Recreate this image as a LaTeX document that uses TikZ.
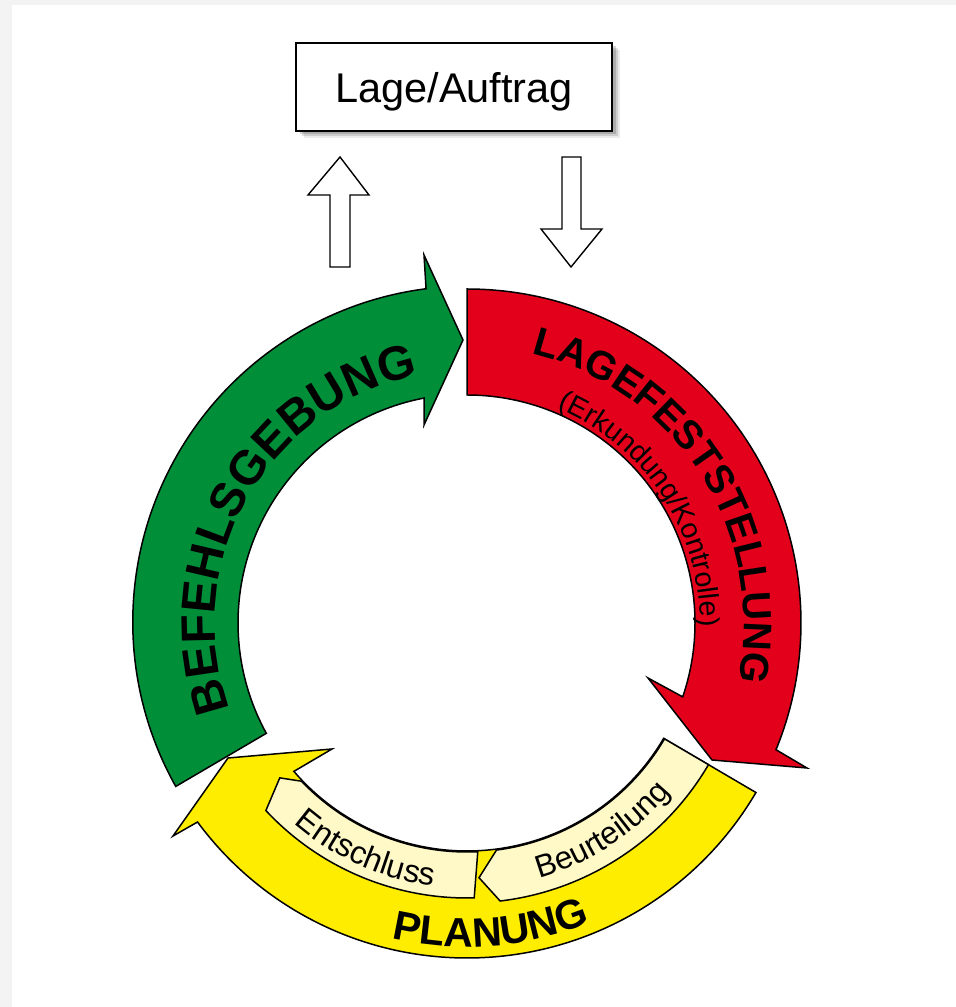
\documentclass[tikz,border=0pt]{standalone}
\usepackage{fontspec}
\setmainfont{Liberation Sans}
\usetikzlibrary{decorations.text}
\definecolor{greenc}{RGB}{0,142,57}
\definecolor{redc}{RGB}{226,0,26}
\definecolor{yellowc}{RGB}{255,237,0}
\definecolor{lightc}{RGB}{255,248,199}
\definecolor{bgc}{RGB}{243,243,243}
\tikzset{
  band/.style={draw=black, line width=1.5pt, line join=miter},
  hollow/.style={draw=black, fill=white, line width=1.4pt, line join=miter},
}
\begin{document}
\begin{tikzpicture}[x=1pt,y=1pt]
\useasboundingbox (0,0) rectangle (956,1007);
\fill[bgc] (0,0) rectangle (956,1007);
\fill[white] (12,0) rectangle (956,1002);
\begin{scope}[shift={(467,384)}]
  % box with shadow
  \fill[black,opacity=0.08] (-163,485) rectangle (153,573);
  \fill[black,opacity=0.12] (-165,487) rectangle (151,575);
  \fill[black,opacity=0.16] (-167,489) rectangle (149,577);
  \node[draw, line width=1.5pt, fill=white, minimum width=316pt, minimum height=88pt,
        inner sep=0pt, text depth=0pt, font=\fontsize{41.5}{48}\selectfont] (lage) at (-13,536) {Lage/Auftrag};
  % hollow arrows
  \draw[hollow] (-137,356) -- (-117,356) -- (-117,428) -- (-98,428) -- (-127,466)
        -- (-159,428) -- (-137,428) -- cycle;
  \draw[hollow] (95,466) -- (114,466) -- (114,394) -- (135,394) -- (104,356)
        -- (74,394) -- (95,394) -- cycle;
  % yellow arrow (Planung)
  \draw[band, fill=yellowc] (-30.4:335) arc[start angle=-30.4, end angle=-143.55, radius=335]
        -- (-294,-213) -- (-239,-135) -- (-135,-126) -- (-139.4:228)
        arc[start angle=-139.4, end angle=-30.4, radius=228] -- cycle;
  % light boxes
  \draw[band, fill=lightc] (-30.4:229) arc[start angle=-30.4, end angle=-82.6, radius=229]
        -- (-87.3:255) -- (-83.2:280) arc[start angle=-83.2, end angle=-30.4, radius=280] -- cycle;
  \draw[band, fill=lightc] (-87.3:229) arc[start angle=-87.3, end angle=-136.3, radius=229]
        -- (-140.4:243) -- (-137:275) arc[start angle=-137, end angle=-88.5, radius=275] -- cycle;
  % red arrow (Lagefeststellung)
  \draw[band, fill=redc] (90:334) arc[start angle=90, end angle=-22.3, radius=334]
        -- (340,-145) -- (245,-137) -- (181,-55) -- (-18.9:228)
        arc[start angle=-18.9, end angle=90, radius=228] -- cycle;
  % green arrow (Befehlsgebung)
  \draw[band, fill=greenc] (209.3:334) arc[start angle=209.3, end angle=97.3, radius=336]
        -- (-43,368) -- (-4,283) -- (-43,198) -- (100.8:229)
        arc[start angle=100.8, end angle=208.8, radius=229] -- cycle;
  % texts
  \path[decorate, decoration={text along path, text align=center,
        text={|\fontsize{48}{56}\selectfont\bfseries|BEFEHLSGEBUNG}}]
        (210.5:252) arc[start angle=210.5, end angle=90.5, radius=252];
  \path[decorate, decoration={text along path, text align=center,
        text={|\fontsize{40}{48}\selectfont\bfseries|LAGEFESTSTELLUNG}}]
        (92.2:277) arc[start angle=92.2, end angle=-27.8, radius=277];
  \path[decorate, decoration={text along path, text align=center,
        text={|\fontsize{28.5}{34}\selectfont|(Erkundung/Kontrolle)}}]
        (98.2:233) arc[start angle=98.2, end angle=-31.8, radius=233];
  \path[decorate, decoration={text along path, text align=center,
        text={|\fontsize{41}{48}\selectfont\bfseries|PLANUNG}}]
        (-115.5:324) arc[start angle=-115.5, end angle=-55.5, radius=324];
  \path[decorate, decoration={text along path, text align=center,
        text={|\fontsize{32}{38}\selectfont|Entschluss}}]
        (-144:265) arc[start angle=-144, end angle=-84, radius=265];
  \path[decorate, decoration={text along path, text align=center,
        text={|\fontsize{31.5}{38}\selectfont|Beurteilung}}]
        (-87:265) arc[start angle=-87, end angle=-27, radius=265];
\end{scope}
\end{tikzpicture}
\end{document}
